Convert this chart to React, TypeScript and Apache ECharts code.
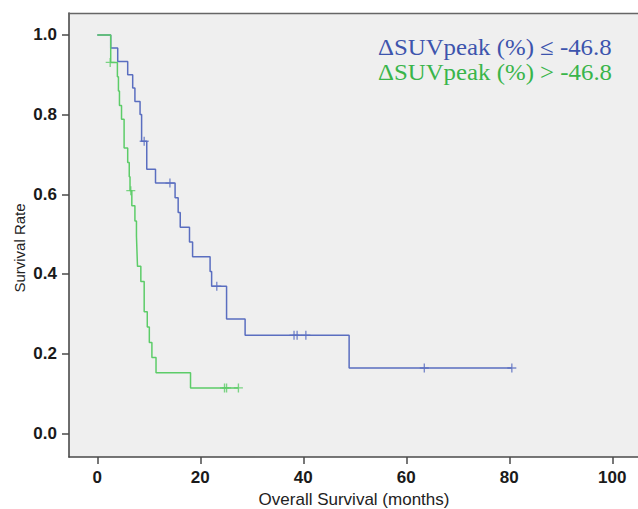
import React, { useEffect, useRef } from "react";
import * as echarts from "echarts";

// Kaplan-Meier steps (time in months, survival after the step)
const BLUE_TIMES = [0, 2.6, 3.96, 5.9, 6.87, 7.3, 8.3, 8.6, 9.6, 11.3, 15.1, 15.7, 16.1, 17.9, 18.5, 21.9, 22.2, 25.1, 28.7, 48.9, 80.5];
const BLUE_SURV = [1, 0.967, 0.933, 0.9, 0.867, 0.833, 0.8, 0.733, 0.663, 0.628, 0.591, 0.554, 0.517, 0.48, 0.443, 0.406, 0.369, 0.287, 0.246, 0.164, 0.164];
const BLUE_CENSOR_T = [9.1, 14.1, 23.2, 38.2, 38.8, 40.5, 63.5, 80.5];
const BLUE_CENSOR_S = [0.733, 0.628, 0.369, 0.246, 0.246, 0.246, 0.164, 0.164];

const GREEN_TIMES = [0, 2.6, 3.9, 4.1, 4.3, 4.7, 5.2, 5.9, 6.2, 6.35, 6.7, 7.3, 7.6, 7.7, 7.8, 8.45, 9.1, 9.7, 10.1, 10.6, 11.4, 18.1, 27.4];
const GREEN_SURV = [1, 0.931, 0.895, 0.859, 0.823, 0.788, 0.716, 0.68, 0.644, 0.609, 0.571, 0.533, 0.495, 0.457, 0.419, 0.381, 0.305, 0.267, 0.228, 0.19, 0.152, 0.114, 0.114];
const GREEN_CENSOR_T = [2.5, 6.5, 24.7, 25.1, 27.4];
const GREEN_CENSOR_S = [0.931, 0.609, 0.114, 0.114, 0.114];

const X_TICKS = [0, 20, 40, 60, 80, 100];
const Y_TICKS = [0, 0.2, 0.4, 0.6, 0.8, 1.0];

const X_TITLE = "Overall Survival (months)";
const Y_TITLE = "Survival Rate";
const SERIES_NAMES = ["\u0394SUVpeak (%) \u2264 -46.8", "\u0394SUVpeak (%) > -46.8"];

const BLUE = "#5a6ec0";
const GREEN = "#5ccc68";
const BLUE_TEXT = "#3d54ad";
const GREEN_TEXT = "#39b54a";

const PLUS = "path://M8.5,0 H11.5 V8.5 H20 V11.5 H11.5 V20 H8.5 V11.5 H0 V8.5 H8.5 Z";

const zip = (a: number[], b: number[]) => a.map((v, i) => [v, b[i]]);

export default function App() {
  const ref = useRef<HTMLDivElement>(null);
  useEffect(() => {
    document.body.style.margin = "0";
    const chart = echarts.init(ref.current!, undefined, { renderer: "svg" });
    const axisFont = "'Liberation Sans', Arial, sans-serif";
    const legendFont = "23px 'Liberation Serif', 'Times New Roman', serif";
    chart.setOption({
      animation: false,
      backgroundColor: "#ffffff",
      grid: {
        left: 69,
        right: 0,
        top: 13,
        bottom: 52,
        show: true,
        backgroundColor: "#efefef",
        borderWidth: 0,
      },
      xAxis: [
        {
          type: "value",
          min: -5.5,
          max: 105,
          axisLine: { show: true, onZero: false, lineStyle: { color: "#4a4a4a", width: 1.6 } },
          axisTick: { show: true, inside: false, length: 7, customValues: X_TICKS, lineStyle: { color: "#4a4a4a", width: 1.5 } },
          axisLabel: {
            customValues: X_TICKS,
            margin: 12,
            fontFamily: axisFont,
            fontSize: 17,
            fontWeight: "bold",
            color: "#1a1a1a",
          },
          splitLine: { show: false },
        },
        {
          type: "value",
          position: "top",
          min: -5.5,
          max: 105,
          axisLine: { show: true, onZero: false, lineStyle: { color: "#666", width: 1.4 } },
          axisTick: { show: false },
          axisLabel: { show: false },
          splitLine: { show: false },
        },
      ],
      yAxis: {
        type: "value",
        min: -0.0595,
        max: 1.055,
        axisLine: { show: true, onZero: false, lineStyle: { color: "#4a4a4a", width: 1.6 } },
        axisTick: { show: true, inside: false, length: 7, customValues: Y_TICKS, lineStyle: { color: "#4a4a4a", width: 1.5 } },
        axisLabel: {
          customValues: Y_TICKS,
          margin: 12,
          fontFamily: axisFont,
          fontSize: 17,
          fontWeight: "bold",
          color: "#1a1a1a",
          formatter: (v: number) => v.toFixed(1),
        },
        splitLine: { show: false },
      },
      series: [
        {
          name: SERIES_NAMES[0],
          type: "line",
          step: "end",
          data: zip(BLUE_TIMES, BLUE_SURV),
          showSymbol: false,
          symbol: "none",
          lineStyle: { color: BLUE, width: 1.5 },
          z: 2,
        },
        {
          name: SERIES_NAMES[0] + " censored",
          type: "scatter",
          data: zip(BLUE_CENSOR_T, BLUE_CENSOR_S),
          symbol: PLUS,
          symbolSize: 9,
          itemStyle: { color: BLUE },
          z: 3,
        },
        {
          name: SERIES_NAMES[1],
          type: "line",
          step: "end",
          data: zip(GREEN_TIMES, GREEN_SURV),
          showSymbol: false,
          symbol: "none",
          lineStyle: { color: GREEN, width: 1.5 },
          z: 4,
        },
        {
          name: SERIES_NAMES[1] + " censored",
          type: "scatter",
          data: zip(GREEN_CENSOR_T, GREEN_CENSOR_S),
          symbol: PLUS,
          symbolSize: 9,
          itemStyle: { color: GREEN },
          z: 5,
        },
      ],
      graphic: [
        {
          type: "text",
          x: 378,
          y: 47,
          scaleX: 1.08,
          z: 10,
          style: {
            text: SERIES_NAMES[0],
            fill: BLUE_TEXT,
            font: legendFont,
            verticalAlign: "middle",
          },
        },
        {
          type: "text",
          x: 378,
          y: 72,
          scaleX: 1.08,
          z: 10,
          style: {
            text: SERIES_NAMES[1],
            fill: GREEN_TEXT,
            font: legendFont,
            verticalAlign: "middle",
          },
        },
        {
          type: "text",
          x: 354,
          y: 499,
          z: 10,
          style: {
            text: X_TITLE,
            fill: "#222",
            font: "17px 'Liberation Sans', Arial, sans-serif",
            align: "center",
            verticalAlign: "middle",
          },
        },
        {
          type: "text",
          x: 19,
          y: 248,
          rotation: Math.PI / 2,
          z: 10,
          style: {
            text: Y_TITLE,
            fill: "#222",
            font: "15px 'Liberation Sans', Arial, sans-serif",
            align: "center",
            verticalAlign: "middle",
          },
        },
      ],
    });
    return () => chart.dispose();
  }, []);
  return <div ref={ref} style={{ width: 638, height: 509 }} />;
}
